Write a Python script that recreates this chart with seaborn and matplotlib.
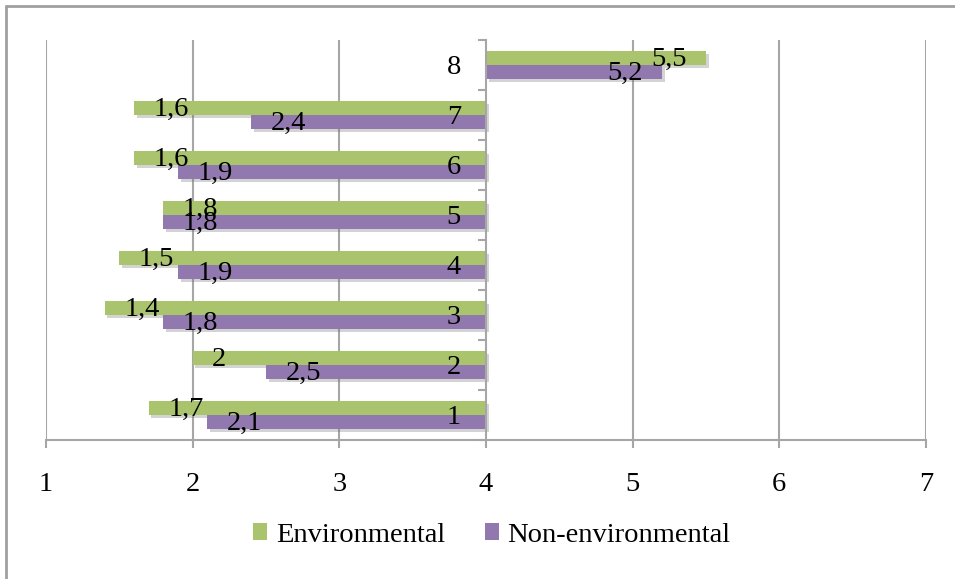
import matplotlib
matplotlib.use("Agg")
import matplotlib.pyplot as plt
import matplotlib.patheffects as pe
from matplotlib.lines import Line2D
from matplotlib.patches import Patch
import numpy as np
import pandas as pd
import seaborn as sns

# Mean scores per item, drawn as deviations from the scale midpoint
categories = ["1", "2", "3", "4", "5", "6", "7", "8"]
environmental = [1.7, 2.0, 1.4, 1.5, 1.8, 1.6, 1.6, 5.5]
non_environmental = [2.1, 2.5, 1.8, 1.9, 1.8, 1.9, 2.4, 5.2]
series_names = ["Environmental", "Non-environmental"]
x_ticks = [1, 2, 3, 4, 5, 6, 7]
midpoint = 4

palette = {"Environmental": "#AAC46E", "Non-environmental": "#9179B0"}
grey = "#A6A6A6"

df = pd.DataFrame({
    "category": categories * 2,
    "series": [series_names[0]] * len(categories) + [series_names[1]] * len(categories),
    "value": environmental + non_environmental,
})
df["offset"] = df["value"] - midpoint

sns.set_theme(style="white")
plt.rcParams["font.family"] = ["Liberation Serif", "DejaVu Serif"]
plt.rcParams["text.color"] = "black"
FS = 20.5

fig = plt.figure(figsize=(9.55, 5.79), dpi=100)
ax = fig.add_axes([46 / 955, 139 / 579, 880 / 955, 400 / 579])

order = categories[::-1]
sns.barplot(
    data=df, x="offset", y="category", hue="series",
    order=order, hue_order=series_names, palette=palette,
    orient="h", width=0.56, gap=0, dodge=True, errorbar=None,
    saturation=1, linewidth=0, legend=False, left=midpoint, ax=ax,
    zorder=1,
)

shadow = [pe.SimplePatchShadow(offset=(2, -2.5), shadow_rgbFace="#6f6f6f", alpha=0.3), pe.Normal()]

# Value labels at the inner end of each bar
lookup = df.set_index(["series", "category"])["value"]
for container, name in zip(ax.containers, series_names):
    for bar, cat in zip(container, order):
        bar.set_path_effects(shadow)
        val = lookup[(name, cat)]
        yc = bar.get_y() + bar.get_height() / 2
        text = f"{val:g}".replace(".", ",")
        if val < midpoint:
            ax.annotate(text, (val, yc), xytext=(14, -1), textcoords="offset points",
                        ha="left", va="center", fontsize=FS, color="black", zorder=5)
        else:
            ax.annotate(text, (val, yc), xytext=(-14, -1), textcoords="offset points",
                        ha="right", va="center", fontsize=FS, color="black", zorder=5)

# Vertical gridlines sit behind the bars; the axis itself is drawn on top
ax.set_xlim(x_ticks[0], x_ticks[-1])
ax.vlines([t for t in x_ticks if t != midpoint], -0.5, len(categories) - 0.5,
          colors=grey, linewidth=1.5, zorder=0.5)
ax.set_axisbelow(False)
ax.grid(False)

ax.set_xticks(x_ticks)
ax.set_xticklabels([str(t) for t in x_ticks], fontsize=FS)
ax.set_xlabel("")
ax.set_ylabel("")

# Vertical axis crosses at the midpoint
ax.spines["left"].set_position(("data", midpoint))
for s in ("top", "right"):
    ax.spines[s].set_visible(False)
for s in ("left", "bottom"):
    ax.spines[s].set_color(grey)
    ax.spines[s].set_linewidth(1.5)

ax.set_yticks(np.arange(-0.5, len(categories), 1.0), minor=True)
ax.tick_params(axis="y", which="major", length=0, pad=18, labelsize=FS, labelcolor="black")
ax.tick_params(axis="y", which="minor", length=6, width=1.5, color=grey, direction="out", left=True)
ax.tick_params(axis="x", which="major", length=6, width=1.5, color=grey, direction="out",
               bottom=True, pad=17, labelcolor="black")
ax.set_ylim(len(categories) - 0.5, -0.5)

# Legend below the plot
handles = [Patch(facecolor=palette[n], edgecolor="none", label=n) for n in series_names]
fig.legend(handles=handles, loc="center", bbox_to_anchor=(0.515, 44 / 579), ncol=2,
           frameon=False, fontsize=FS, handlelength=0.5, handleheight=0.5,
           handletextpad=0.3, columnspacing=1.4, labelcolor="black")

# Chart area border (left and top edges)
fig.add_artist(Line2D([6 / 955, 6 / 955], [0, 1 - 6 / 579], transform=fig.transFigure,
                      color="#A0A0A0", linewidth=2))
fig.add_artist(Line2D([6 / 955, 1], [1 - 6 / 579, 1 - 6 / 579], transform=fig.transFigure,
                      color="#A0A0A0", linewidth=2))

fig.savefig("out.png", dpi=100)
